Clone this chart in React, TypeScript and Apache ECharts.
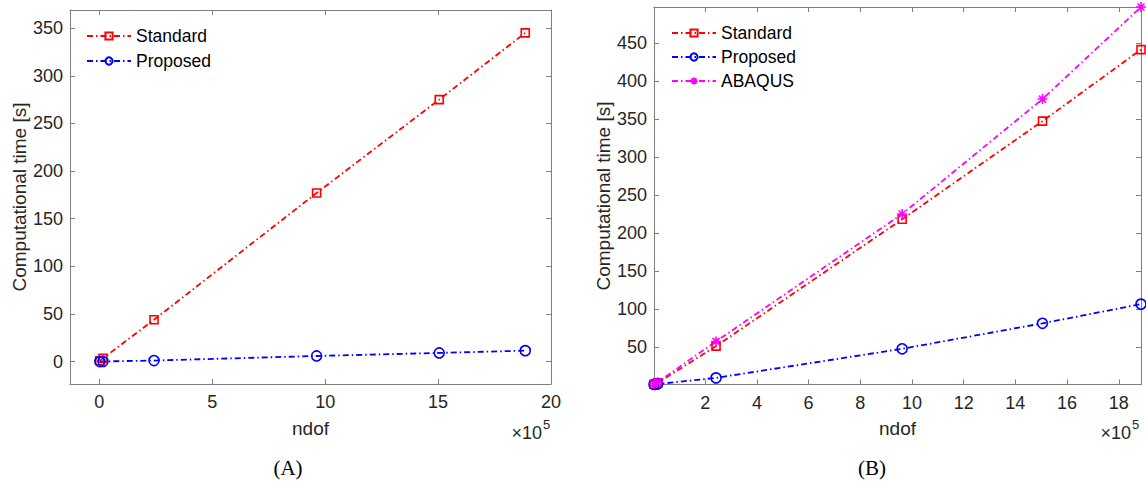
import React, { useEffect, useRef } from 'react';
import * as echarts from 'echarts';

// ---- data (ndof in units of 1e5, time in seconds) ----
const ndof = [0.02, 0.16, 2.42, 9.62, 15.05, 18.86];
const standardA = [1, 3.5, 44, 177, 275, 345];
const proposedA = [0.1, 0.3, 1.2, 6, 9.2, 11.6];
const standardB = [1.2, 3, 51.3, 218, 347, 441];
const proposedB = [0.9, 1.5, 9.6, 47.8, 81.3, 106.5];
const abaqusB = [2, 4, 57.5, 225, 376, 497];

const xTicksA = [0, 5, 10, 15, 20];
const yTicksA = [0, 50, 100, 150, 200, 250, 300, 350];
const xTicksB = [2, 4, 6, 8, 10, 12, 14, 16, 18];
const yTicksB = [50, 100, 150, 200, 250, 300, 350, 400, 450];

const FONT = '"Liberation Sans", Arial, Helvetica, sans-serif';
const SERIF = '"Liberation Serif", "DejaVu Serif", serif';
const AXIS_COLOR = '#7f7f7f';
const LABEL_COLOR = '#262626';
const DASH = [6, 3, 1.5, 3];

function makeAxes(gridIndex: number, min: number, max: number, step: number, labels: number[], isX: boolean) {
  const base: any = {
    type: 'value',
    gridIndex,
    min,
    max,
    minInterval: step,
    maxInterval: step,
    splitLine: { show: false },
    axisLine: { show: true, onZero: false, lineStyle: { color: AXIS_COLOR, width: 1 } },
    axisTick: { show: true, inside: true, length: 5, lineStyle: { color: AXIS_COLOR, width: 1 } },
  };
  const main = {
    ...base,
    position: isX ? 'bottom' : 'left',
    axisLabel: {
      show: true,
      fontSize: 18,
      fontFamily: FONT,
      color: LABEL_COLOR,
      margin: isX ? 9 : 7,
      showMinLabel: true,
      showMaxLabel: true,
      formatter: (v: number) => (labels.some((l) => Math.abs(l - v) < 1e-6) ? String(Math.round(v)) : ''),
    },
  };
  const mirror = { ...base, position: isX ? 'top' : 'right', axisLabel: { show: false } };
  return [main, mirror];
}

function makeSeries(name: string, ys: number[], color: string, symbol: string, size: number, axisIndex: number) {
  return {
    type: 'line',
    name,
    xAxisIndex: axisIndex,
    yAxisIndex: axisIndex,
    data: ndof.map((x, i) => [x, ys[i]]),
    symbol,
    symbolSize: size,
    showSymbol: true,
    clip: true,
    silent: true,
    lineStyle: { color, width: 1.8, type: DASH },
    itemStyle: { color: 'rgba(255,255,255,0)', borderColor: color, borderWidth: 1.6 },
  };
}

const STAR = 'path://M5,0L5,10M0,5L10,5M1.5,1.5L8.5,8.5M1.5,8.5L8.5,1.5';

export default function App() {
  const ref = useRef<HTMLDivElement>(null);
  useEffect(() => {
    if (!ref.current) return;
    const chart = echarts.init(ref.current, undefined, { renderer: 'svg' });
    const [xA, xA2] = makeAxes(0, -1.3, 20, 5, xTicksA, true);
    const [yA, yA2] = makeAxes(0, -23.4, 369, 50, yTicksA, false);
    const [xB, xB2] = makeAxes(1, 0.02, 18.86, 2, xTicksB, true);
    const [yB, yB2] = makeAxes(1, 0.9, 497, 50, yTicksB, false);

    const legendBase = {
      orient: 'vertical',
      itemWidth: 44,
      itemHeight: 9,
      padding: 0,
      textStyle: { fontSize: 17.5, fontFamily: FONT, color: '#000', lineHeight: 18 },
      selectedMode: false,
    };

    chart.setOption({
      animation: false,
      backgroundColor: '#ffffff',
      grid: [
        { left: 70, top: 10, width: 481, height: 374, containLabel: false },
        { left: 654, top: 7, width: 487, height: 377.5, containLabel: false },
      ],
      xAxis: [xA, xA2, xB, xB2],
      yAxis: [yA, yA2, yB, yB2],
      legend: [
        { ...legendBase, left: 86, top: 27, itemGap: 7, data: ['Standard', 'Proposed'] },
        { ...legendBase, left: 671, top: 24, itemGap: 6, data: ['Standard', 'Proposed', 'ABAQUS'] },
      ],
      series: [
        makeSeries('Standard', standardA, '#ff0000', 'rect', 8, 0),
        makeSeries('Proposed', proposedA, '#0000ff', 'circle', 10, 0),
        { ...makeSeries('Standard', standardB, '#ff0000', 'rect', 8, 1), xAxisIndex: 2, yAxisIndex: 2 },
        { ...makeSeries('Proposed', proposedB, '#0000ff', 'circle', 10, 1), xAxisIndex: 2, yAxisIndex: 2 },
        { ...makeSeries('ABAQUS', abaqusB, '#ff00ff', STAR, 10, 1), xAxisIndex: 2, yAxisIndex: 2 },
      ],
      graphic: [
        { type: 'text', x: 19, y: 197, rotation: Math.PI / 2, style: { text: 'Computational time [s]', fontSize: 19, fontFamily: FONT, fill: LABEL_COLOR, align: 'center', verticalAlign: 'middle' } },
        { type: 'text', x: 603, y: 196, rotation: Math.PI / 2, style: { text: 'Computational time [s]', fontSize: 19, fontFamily: FONT, fill: LABEL_COLOR, align: 'center', verticalAlign: 'middle' } },
        { type: 'text', x: 310.5, y: 428, style: { text: 'ndof', fontSize: 19, fontFamily: FONT, fill: LABEL_COLOR, align: 'center', verticalAlign: 'middle' } },
        { type: 'text', x: 897.5, y: 428, style: { text: 'ndof', fontSize: 19, fontFamily: FONT, fill: LABEL_COLOR, align: 'center', verticalAlign: 'middle' } },
        { type: 'text', x: 542, y: 433, style: { text: '×10', fontSize: 18, fontFamily: FONT, fill: LABEL_COLOR, align: 'right', verticalAlign: 'middle' } },
        { type: 'text', x: 543, y: 424, style: { text: '5', fontSize: 13, fontFamily: FONT, fill: LABEL_COLOR, align: 'left', verticalAlign: 'middle' } },
        { type: 'text', x: 1131, y: 433, style: { text: '×10', fontSize: 18, fontFamily: FONT, fill: LABEL_COLOR, align: 'right', verticalAlign: 'middle' } },
        { type: 'text', x: 1132, y: 424, style: { text: '5', fontSize: 13, fontFamily: FONT, fill: LABEL_COLOR, align: 'left', verticalAlign: 'middle' } },
        { type: 'text', x: 288, y: 468, style: { text: '(A)', fontSize: 21, fontFamily: SERIF, fill: '#000', align: 'center', verticalAlign: 'middle' } },
        { type: 'text', x: 872, y: 468, style: { text: '(B)', fontSize: 21, fontFamily: SERIF, fill: '#000', align: 'center', verticalAlign: 'middle' } },
      ],
    });
    return () => chart.dispose();
  }, []);
  return <div ref={ref} style={{ position: 'fixed', left: 0, top: 0, width: 1146, height: 482, background: '#fff' }} />;
}
